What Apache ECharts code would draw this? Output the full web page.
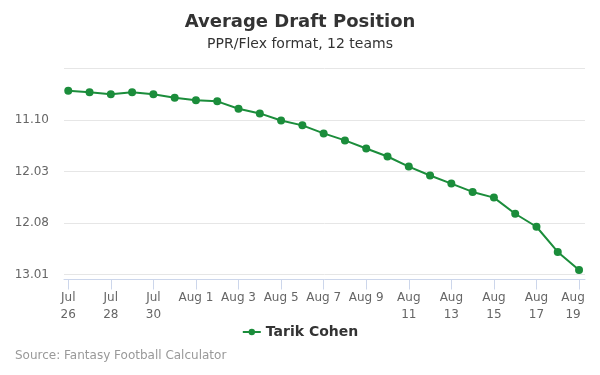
<!DOCTYPE html>
<html>
<head>
<meta charset="utf-8">
<title>Average Draft Position</title>
<script src="https://cdn.jsdelivr.net/npm/echarts@6/dist/echarts.min.js"></script>
<style>
  html, body { margin: 0; padding: 0; background: #fff; }
  #chart { width: 600px; height: 375px; }
</style>
</head>
<body>
<div id="chart"></div>
<script>
// dates, one point per day
var dates = ['Jul 26','Jul 27','Jul 28','Jul 29','Jul 30','Jul 31','Aug 1','Aug 2','Aug 3','Aug 4',
  'Aug 5','Aug 6','Aug 7','Aug 8','Aug 9','Aug 10','Aug 11','Aug 12','Aug 13','Aug 14',
  'Aug 15','Aug 16','Aug 17','Aug 18','Aug 19'];
// overall pick number (12 team league)
var adp = [127.15, 127.31, 127.5, 127.31, 127.5, 127.83, 128.09, 128.19, 128.9, 129.36,
  130.04, 130.52, 131.3, 131.98, 132.76, 133.54, 134.52, 135.39, 136.17, 136.98,
  137.53, 139.1, 140.36, 142.8, 144.55];
var tickDays = [0, 2, 4, 6, 8, 10, 12, 14, 16, 18, 20, 22, 24];
var tickLabels = ['Jul\n26','Jul\n28','Jul\n30','Aug 1','Aug 3','Aug 5','Aug 7','Aug 9',
  'Aug\n11','Aug\n13','Aug\n15','Aug\n17','Aug\n19'];
var yTicks = [130, 135, 140, 145];

function pickLabel(p) {
  var r = Math.floor((p - 1) / 12) + 1;
  var k = (p - 1) % 12 + 1;
  return r + '.' + (k < 10 ? '0' + k : k);
}

var pts = [];
for (var i = 0; i < adp.length; i++) pts.push([i, adp[i]]);

var chart = echarts.init(document.getElementById('chart'), null, { renderer: 'canvas' });
var font = 'DejaVu Sans';
chart.setOption({
  animation: false,
  title: {
    text: 'Average Draft Position',
    subtext: 'PPR/Flex format, 12 teams',
    left: 'center',
    top: 8,
    itemGap: 6,
    textStyle: { fontFamily: font, fontSize: 18, fontWeight: 'bold', color: '#333' },
    subtextStyle: { fontFamily: font, fontSize: 14, color: '#333' }
  },
  graphic: [{
    type: 'text', left: 15, top: 350,
    style: { text: 'Source: Fantasy Football Calculator', fontFamily: font, fontSize: 12, fill: '#999' }
  }],
  legend: {
    data: ['Tarik Cohen'],
    left: 'center',
    top: 320,
    itemWidth: 18,
    itemHeight: 8,
    itemGap: 4,
    textStyle: { fontFamily: font, fontSize: 14, fontWeight: 'bold', color: '#333' }
  },
  grid: { left: 64, right: 15, top: 68.5, height: 211 },
  xAxis: {
    type: 'value',
    min: -0.2,
    max: 24.28,
    splitLine: { show: false },
    axisLine: { show: true, lineStyle: { color: '#ccd6eb' } },
    axisTick: { show: true, length: 10, customValues: tickDays, lineStyle: { color: '#ccd6eb' } },
    axisLabel: {
      customValues: tickDays,
      fontFamily: font, fontSize: 12, color: '#666', margin: 10, lineHeight: 17,
      formatter: function (v) {
        var s = tickLabels[tickDays.indexOf(v)];
        if (v === 24) return '{last|' + s.replace('\n', '}\n{last|') + '}';
        return s;
      },
      rich: {
        last: { fontFamily: font, fontSize: 12, color: '#666', lineHeight: 17, padding: [0, 12, 0, 0] }
      }
    }
  },
  yAxis: {
    type: 'value',
    inverse: true,
    min: 125,
    max: 145.48,
    interval: 5,
    axisLine: { show: false },
    axisTick: { show: false },
    splitLine: { lineStyle: { color: '#e6e6e6' } },
    axisLabel: {
      fontFamily: font, fontSize: 12, color: '#666', margin: 15,
      formatter: function (v) { return yTicks.indexOf(v) >= 0 ? pickLabel(v) : ''; }
    }
  },
  series: [{
    name: 'Tarik Cohen',
    type: 'line',
    data: pts,
    symbol: 'circle',
    symbolSize: 8,
    color: '#1b8d3b',
    lineStyle: { width: 2 },
    itemStyle: { color: '#1b8d3b' }
  }]
});
</script>
</body>
</html>
